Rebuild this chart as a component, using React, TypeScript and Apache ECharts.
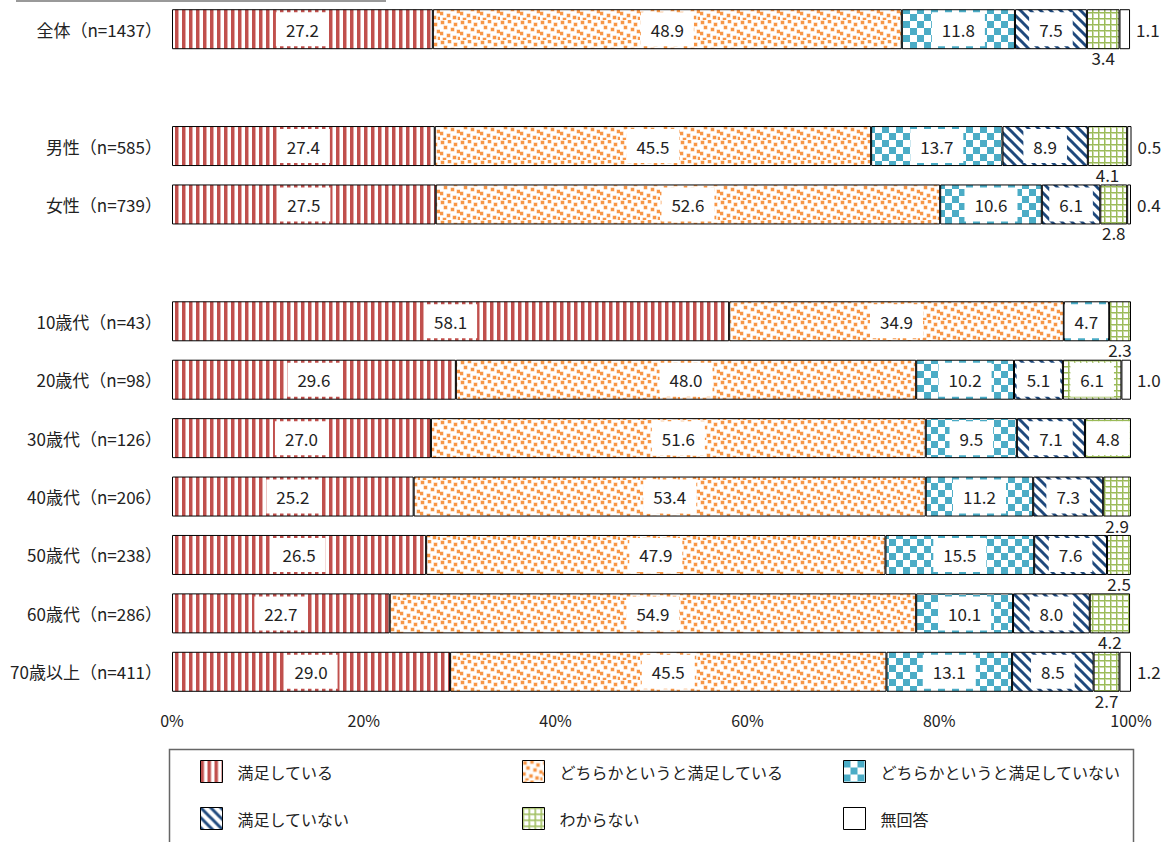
import React, { useEffect, useRef } from "react";
import * as echarts from "echarts";

const categories = [
  "全体（n=1437）",
  "_gap1",
  "男性（n=585）",
  "女性（n=739）",
  "_gap2",
  "10歳代（n=43）",
  "20歳代（n=98）",
  "30歳代（n=126）",
  "40歳代（n=206）",
  "50歳代（n=238）",
  "60歳代（n=286）",
  "70歳以上（n=411）",
];

const seriesNames = [
  "満足している",
  "どちらかというと満足している",
  "どちらかというと満足していない",
  "満足していない",
  "わからない",
  "無回答",
];

const satisfied = [27.2, 0, 27.4, 27.5, 0, 58.1, 29.6, 27.0, 25.2, 26.5, 22.7, 29.0];
const ratherSatisfied = [48.9, 0, 45.5, 52.6, 0, 34.9, 48.0, 51.6, 53.4, 47.9, 54.9, 45.5];
const ratherUnsatisfied = [11.8, 0, 13.7, 10.6, 0, 4.7, 10.2, 9.5, 11.2, 15.5, 10.1, 13.1];
const unsatisfied = [7.5, 0, 8.9, 6.1, 0, 0, 5.1, 7.1, 7.3, 7.6, 8.0, 8.5];
const dontKnow = [3.4, 0, 4.1, 2.8, 0, 2.3, 6.1, 4.8, 2.9, 2.5, 4.2, 2.7];
const noAnswer = [1.1, 0, 0.5, 0.4, 0, 0, 1.0, 0, 0, 0, 0, 1.2];

const xTicks = [0, 20, 40, 60, 80, 100];

const FONT = '"Noto Sans CJK JP", "Noto Sans", sans-serif';
const TEXT = "#222";

function tile(w: number, h: number, draw: (c: CanvasRenderingContext2D) => void) {
  const cv = document.createElement("canvas");
  cv.width = w;
  cv.height = h;
  const c = cv.getContext("2d")!;
  c.fillStyle = "#fff";
  c.fillRect(0, 0, w, h);
  draw(c);
  return { image: cv.toDataURL(), repeat: "repeat", imageWidth: w, imageHeight: h } as any;
}

function makePatterns() {
  const stripes = tile(7, 7, (c) => {
    c.fillStyle = "#C0504D";
    c.fillRect(0, 0, 3, 7);
    c.fillStyle = "#E3A9A7";
    c.fillRect(3, 0, 1, 7);
  });
  const dots = tile(20, 20, (c) => {
    const spots = [
      [1, 1], [8, 0], [14, 3], [4, 6], [11, 8], [17, 10], [0, 12], [7, 14], [13, 16], [3, 18], [18, 17],
    ];
    spots.forEach(([x, y]) => {
      c.fillStyle = "#FBC9A0";
      c.fillRect(x - 0.5, y - 0.5, 4, 4);
      c.fillStyle = "#F79646";
      c.fillRect(x, y, 3, 3);
    });
  });
  const checker = tile(14, 14, (c) => {
    c.fillStyle = "#4BACC6";
    c.fillRect(0, 0, 7, 7);
    c.fillRect(7, 7, 7, 7);
  });
  const diag = tile(10, 10, (c) => {
    c.strokeStyle = "#1F497D";
    c.lineWidth = 3;
    for (const k of [-10, 0, 10]) {
      c.beginPath();
      c.moveTo(k - 2, -2);
      c.lineTo(k + 12, 12);
      c.stroke();
    }
  });
  const grid = tile(6, 6, (c) => {
    c.fillStyle = "#CBDBA8";
    c.fillRect(0, 1, 6, 1);
    c.fillRect(1, 0, 1, 6);
    c.fillStyle = "#9BBB59";
    c.fillRect(0, 0, 6, 1);
    c.fillRect(0, 0, 1, 6);
  });
  return [stripes, dots, checker, diag, grid, "#ffffff"];
}

const LABEL_SIZE = 17;

const insideLabel = {
  show: true,
  position: "inside",
  backgroundColor: "#fff",
  padding: [9, 10, 8, 10],
  color: TEXT,
  fontSize: LABEL_SIZE,
  fontFamily: FONT,
};

function buildData(vals: number[], kind: "inside" | "dk" | "na") {
  return vals.map((v) => {
    if (!v) return { value: 0, itemStyle: { borderWidth: 0 }, label: { show: false } };
    if (kind === "na") {
      return {
        value: v,
        label: { show: true, position: "right", distance: 6, color: TEXT, fontSize: LABEL_SIZE, fontFamily: FONT },
      };
    }
    if (kind === "dk" && v < 4.5) {
      return {
        value: v,
        label: {
          show: true,
          position: "bottom",
          distance: 0,
          color: TEXT,
          fontSize: LABEL_SIZE,
          fontFamily: FONT,
          backgroundColor: "transparent",
          padding: 0,
        },
      };
    }
    return { value: v, label: insideLabel };
  });
}

export default function App() {
  const ref = useRef<HTMLDivElement>(null);
  useEffect(() => {
    if (!ref.current) return;
    const chart = echarts.init(ref.current, null, { renderer: "svg" });
    const patterns = makePatterns();
    const values = [satisfied, ratherSatisfied, ratherUnsatisfied, unsatisfied, dontKnow, noAnswer];
    const kinds: ("inside" | "dk" | "na")[] = ["inside", "inside", "inside", "inside", "dk", "na"];
    const series = seriesNames.map((name, i) => ({
      name,
      type: "bar",
      stack: "total",
      barWidth: 40,
      itemStyle: { color: patterns[i], borderColor: "#000", borderWidth: 1 },
      label: {
        formatter: (p: any) => Number(p.value).toFixed(1),
      },
      data: buildData(values[i], kinds[i]),
    }));
    const legendCommon = {
      orient: "vertical",
      top: 760,
      padding: 0,
      itemGap: 24,
      itemWidth: 22,
      itemHeight: 22,
      icon: "rect",
      selectedMode: false,
      itemStyle: { borderColor: "#000", borderWidth: 1 },
      textStyle: { fontSize: 16, fontFamily: FONT, color: TEXT, padding: [0, 0, 0, 10] },
    };
    chart.setOption({
      animation: false,
      backgroundColor: "#fff",
      textStyle: { fontFamily: FONT },
      grid: { left: 172, right: 34, top: -1, bottom: 141, containLabel: false },
      xAxis: {
        type: "value",
        min: xTicks[0],
        max: xTicks[xTicks.length - 1],
        interval: 20,
        axisLine: { show: false },
        axisTick: { show: false },
        splitLine: { show: false },
        axisLabel: { formatter: "{value}%", fontSize: 16, color: TEXT, fontFamily: FONT, margin: 11 },
      },
      yAxis: {
        type: "category",
        inverse: true,
        data: categories,
        axisLine: { show: false },
        axisTick: { show: false },
        axisLabel: {
          fontSize: 17,
          color: TEXT,
          fontFamily: FONT,
          margin: 10,
          formatter: (v: string) => (v.startsWith("_gap") ? "" : v),
        },
      },
      legend: [
        { ...legendCommon, left: 200, data: [seriesNames[0], seriesNames[3]] },
        { ...legendCommon, left: 522, data: [seriesNames[1], seriesNames[4]] },
        { ...legendCommon, left: 843, data: [seriesNames[2], seriesNames[5]] },
      ],
      graphic: [
        {
          type: "rect",
          left: 167,
          top: 747,
          shape: { width: 964, height: 110 },
          style: { fill: "none", stroke: "#666", lineWidth: 1.5 },
          silent: true,
        },
        {
          type: "line",
          shape: { x1: 16, y1: 1, x2: 386, y2: 1 },
          style: { stroke: "#999", lineWidth: 2 },
          silent: true,
        },
      ],
      series,
    });
    return () => chart.dispose();
  }, []);
  return (
    <div
      ref={ref}
      style={{ position: "fixed", left: 0, top: 0, width: 1165, height: 842 }}
    />
  );
}
